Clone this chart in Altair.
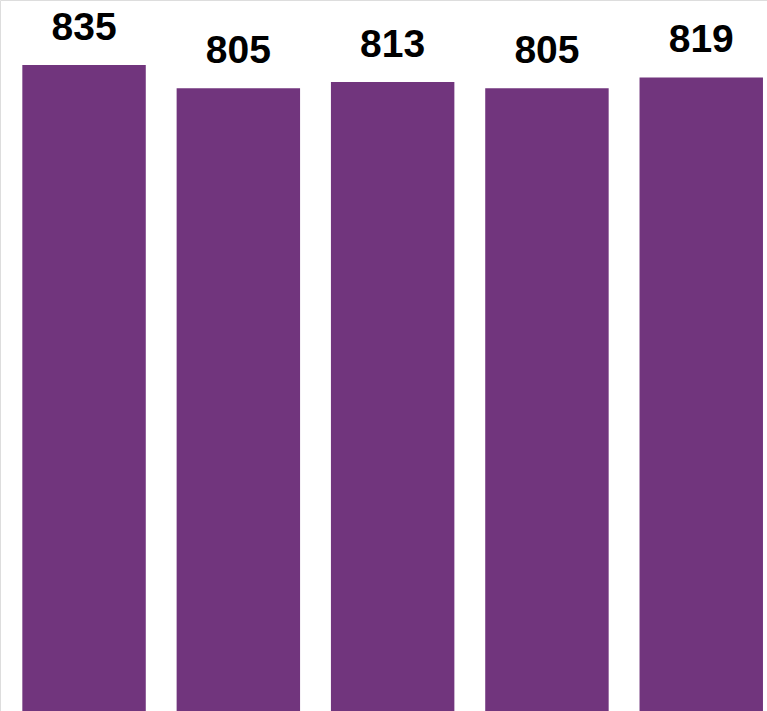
import altair as alt
import pandas as pd

categories = ["A", "B", "C", "D", "E"]
values = [835, 805, 813, 805, 819]

df = pd.DataFrame({"cat": categories, "value": values})

x = alt.X("cat:N", sort=categories, axis=None,
          scale=alt.Scale(range=[6.9, 778.4], paddingInner=0.2, paddingOuter=0.1))
y = alt.Y("value:Q", axis=None,
          scale=alt.Scale(domain=[0, 835], range=[711, 65], zero=True, nice=False))

base = alt.Chart(df).encode(x=x, y=y)

bars = base.mark_bar(color="#71357D")
labels = base.mark_text(font="Liberation Sans", fontWeight="bold", fontSize=39,
                        color="#000000", baseline="alphabetic", dy=-25).encode(text="value:Q")

chart = (bars + labels).properties(
    width=767, height=711,
    autosize=alt.AutoSizeParams(type="none"),
    padding=0,
).configure_view(stroke=None).configure(background="white")

chart.save("out.html", embed_options={"renderer": "svg", "actions": False})
